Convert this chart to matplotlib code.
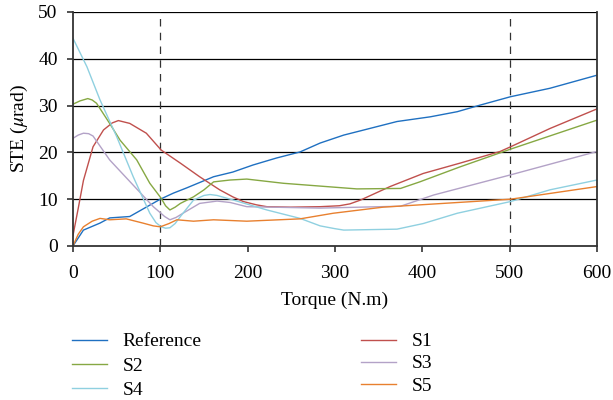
import matplotlib
matplotlib.use('Agg')
import matplotlib.pyplot as plt

plt.rcParams['font.family'] = ['Liberation Serif', 'DejaVu Serif']
plt.rcParams['mathtext.fontset'] = 'stix'

# torque values (N.m) and STE values (urad)
ref_x = [0, 12, 31, 42, 65, 100, 115, 130, 161, 183, 206, 233, 260, 283, 310, 329, 371, 409, 440, 466, 501, 546, 600]
ref_y = [0, 3.4, 4.9, 6.0, 6.3, 10.0, 11.3, 12.4, 14.8, 15.8, 17.3, 18.8, 20.1, 22.0, 23.7, 24.6, 26.6, 27.6, 28.7, 30.1, 31.9, 33.7, 36.5]

s1_x = [0, 6, 12, 23, 35, 45, 52, 65, 84, 101, 123, 145, 168, 183, 195, 210, 222, 249, 283, 305, 317, 329, 363, 401, 443, 489, 501, 546, 600]
s1_y = [2.2, 8.0, 14.0, 21.2, 24.8, 26.3, 26.8, 26.2, 24.1, 20.5, 17.7, 14.8, 12.0, 10.5, 9.5, 8.8, 8.4, 8.3, 8.4, 8.6, 9.0, 9.8, 12.7, 15.5, 17.7, 20.2, 21.2, 25.1, 29.3]

s2_x = [0, 8, 17, 22, 27, 42, 54, 73, 88, 101, 106, 111, 117, 123, 138, 150, 161, 180, 199, 241, 283, 325, 375, 397, 443, 501, 600]
s2_y = [30.3, 31.0, 31.5, 31.2, 30.5, 26.2, 22.6, 18.4, 13.4, 10.2, 8.6, 7.7, 8.3, 9.1, 10.5, 12.0, 13.7, 14.1, 14.3, 13.4, 12.8, 12.2, 12.3, 13.7, 16.9, 20.7, 26.9]

s3_x = [0, 6, 12, 18, 23, 42, 69, 92, 105, 111, 118, 126, 145, 165, 180, 199, 283, 375, 413, 501, 600]
s3_y = [23.0, 23.7, 24.1, 24.0, 23.5, 18.4, 13.0, 8.4, 6.3, 5.6, 6.1, 7.0, 9.1, 9.6, 9.3, 8.4, 8.1, 8.5, 10.9, 15.2, 20.2]

s4_x = [0, 16, 31, 50, 69, 88, 95, 101, 106, 111, 117, 123, 138, 150, 157, 165, 184, 222, 260, 283, 300, 310, 371, 401, 440, 501, 546, 600]
s4_y = [44.4, 38.3, 31.2, 23.4, 14.8, 7.0, 5.0, 4.1, 3.8, 3.9, 4.8, 6.3, 9.8, 10.8, 11.0, 10.8, 9.8, 7.7, 5.9, 4.3, 3.7, 3.4, 3.6, 4.8, 7.0, 9.5, 12.0, 14.1]

s5_x = [0, 6, 12, 22, 31, 42, 61, 80, 92, 100, 110, 119, 138, 161, 199, 260, 298, 355, 501, 600]
s5_y = [0, 2.5, 4.1, 5.3, 5.9, 5.6, 5.8, 4.9, 4.3, 4.1, 4.8, 5.6, 5.3, 5.6, 5.3, 5.8, 7.0, 8.3, 10.0, 12.7]

fig = plt.figure(figsize=(6.13, 4.0), dpi=100)
ax = fig.add_axes([0.119, 0.385, 0.855, 0.585])

for y in [10, 20, 30, 40, 50]:
    ax.axhline(y, color='black', lw=0.9, zorder=1)
ax.axvline(100, color='#333333', lw=0.9, ls=(0, (6, 5)), zorder=1)
ax.axvline(500, color='#333333', lw=0.9, ls=(0, (6, 5)), zorder=1)

lw = 1.0
l_ref, = ax.plot(ref_x, ref_y, color='#1f70c1', lw=lw)
l_s1, = ax.plot(s1_x, s1_y, color='#c0504d', lw=lw)
l_s2, = ax.plot(s2_x, s2_y, color='#86a843', lw=lw)
l_s3, = ax.plot(s3_x, s3_y, color='#b3a2c7', lw=lw)
l_s4, = ax.plot(s4_x, s4_y, color='#8fd0e0', lw=lw)
l_s5, = ax.plot(s5_x, s5_y, color='#e8802f', lw=lw)

ax.set_xlim(0, 600)
ax.set_ylim(0, 50)
ax.set_xticks([0, 100, 200, 300, 400, 500, 600])
ax.set_yticks([0, 10, 20, 30, 40, 50])
ax.tick_params(labelsize=14, direction='out', length=4, width=1.2, color='#333333')
ax.tick_params(axis='x', pad=10)
ax.tick_params(axis='y', pad=7)
for s in ax.spines.values():
    s.set_color('#333333')
    s.set_linewidth(1.3)
ax.spines['top'].set_visible(False)
ax.set_xlabel('Torque (N.m)', fontsize=14, labelpad=7)
ax.set_ylabel(r'STE ($\mu$rad)', fontsize=14, labelpad=6)

leg_kw = dict(loc='upper left', frameon=False, fontsize=14, handlelength=1.8,
              handletextpad=0.8, borderaxespad=0, borderpad=0)
leg1 = fig.legend([l_ref, l_s2, l_s4], ['Reference', 'S2', 'S4'],
                  bbox_to_anchor=(0.117, 0.168), labelspacing=0.35, **leg_kw)
leg2 = fig.legend([l_s1, l_s3, l_s5], ['S1', 'S3', 'S5'],
                  bbox_to_anchor=(0.589, 0.168), labelspacing=0.23, **leg_kw)

fig.savefig('out.png', dpi=100)
